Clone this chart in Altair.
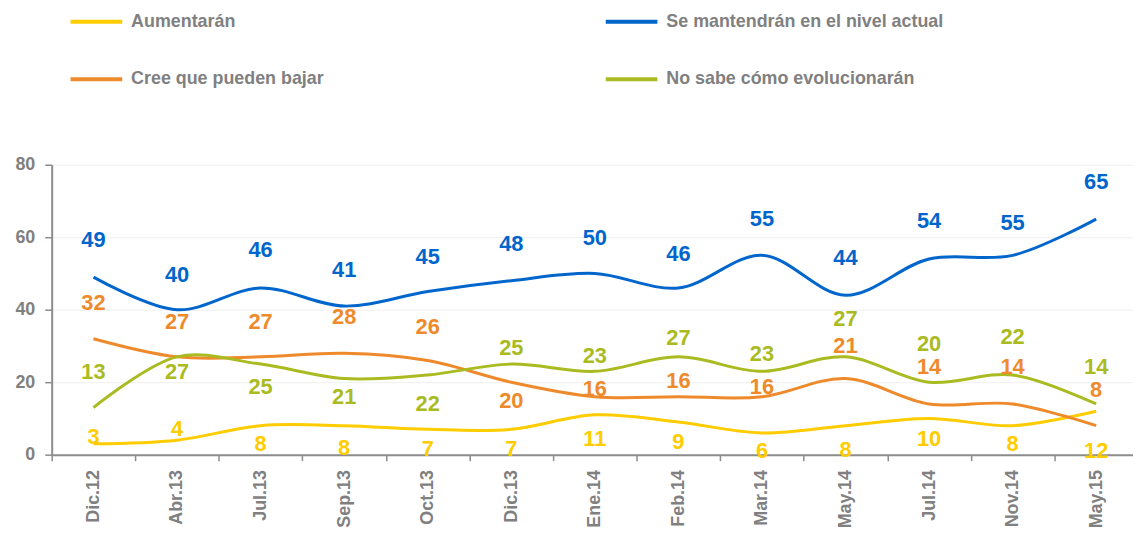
import altair as alt
import pandas as pd

categories = ["Dic.12", "Abr.13", "Jul.13", "Sep.13", "Oct.13", "Dic.13", "Ene.14",
              "Feb.14", "Mar.14", "May.14", "Jul.14", "Nov.14", "May.15"]
series_names = ["Aumentarán", "Se mantendrán en el nivel actual",
                "Cree que pueden bajar", "No sabe cómo evolucionarán"]

aumentaran = [3, 4, 8, 8, 7, 7, 11, 9, 6, 8, 10, 8, 12]
se_mantendran = [49, 40, 46, 41, 45, 48, 50, 46, 55, 44, 54, 55, 65]
cree_bajar = [32, 27, 27, 28, 26, 20, 16, 16, 16, 21, 14, 14, 8]
no_sabe = [13, 27, 25, 21, 22, 25, 23, 27, 23, 27, 20, 22, 14]

colors = ["#FFCC00", "#0066CC", "#EE8A2B", "#AABB22"]

# label placement offsets in pixels (negative = above the point)
off_aumentaran = [-7, -11, 18, 23, 20, 20, 24, 20, 18, 25, 21, 18, 40]
off_se_mantendran = [-37, -35, -38, -36, -35, -37, -36, -34, -37, -37, -38, -33, -37]
off_cree_bajar = [-36, -35, -35, -36, -34, 19, -8, -16, -10, -33, -37, -37, -36]
off_no_sabe = [-36, 15, 23, 19, 29, -16, -15, -19, -17, -38, -38, -38, -37]

PLOT_H = 292
Y_MAX = 80
px_per_unit = PLOT_H / Y_MAX

rows = []
for name, vals, offs in zip(series_names,
                            [aumentaran, se_mantendran, cree_bajar, no_sabe],
                            [off_aumentaran, off_se_mantendran, off_cree_bajar, off_no_sabe]):
    for c, v, o in zip(categories, vals, offs):
        rows.append({"serie": name, "fecha": c, "valor": v,
                     "label_y": v - o / px_per_unit})
df = pd.DataFrame(rows)

color_enc = alt.Color(
    "serie:N",
    scale=alt.Scale(domain=series_names, range=colors),
    legend=alt.Legend(
        title=None, orient="none", legendX=17, legendY=-172, columns=2,
        direction="horizontal",
        columnPadding=275, rowPadding=21, symbolType="stroke", symbolSize=2704,
        symbolStrokeWidth=4, labelFont="Liberation Sans", labelFontSize=18,
        labelFontWeight="bold", labelColor="#808080", labelOffset=7, padding=0,
        labelLimit=600,
    ),
)

x_enc = alt.X(
    "fecha:N", sort=categories,
    scale=alt.Scale(type="band", range=[0, 1094], paddingInner=0, paddingOuter=0),
    axis=alt.Axis(title=None, labelAngle=-90, tickBand="extent", labelFontSize=18,
                  labelPadding=9, tickSize=6, grid=False),
)

base = alt.Chart(df)

lines = base.mark_line(strokeWidth=3, interpolate="catmull-rom").encode(
    x=x_enc,
    y=alt.Y("valor:Q", scale=alt.Scale(domain=[0, Y_MAX], nice=False),
            axis=alt.Axis(title=None, values=[0, 20, 40, 60, 80], labelFontSize=18,
                          tickSize=7, labelPadding=10, grid=True)),
    color=color_enc,
)

labels = base.mark_text(font="Liberation Sans", fontWeight="bold", fontSize=22,
                        baseline="middle", align="center").encode(
    x=alt.X("fecha:N", sort=categories),
    y=alt.Y("label_y:Q"),
    text=alt.Text("valor:Q"),
    color=color_enc,
)

chart = alt.layer(lines, labels).properties(
    width=1089, height=PLOT_H, autosize=alt.AutoSizeParams(type="none"),
    padding={"left": 44, "top": 156, "right": 0, "bottom": 76},
).configure_view(stroke=None).configure_axis(
    labelFont="Liberation Sans", labelFontWeight="bold", labelColor="#808080",
    domainColor="#8c8c8c", tickColor="#8c8c8c", domainWidth=2, tickWidth=1.5,
    gridColor="#efefef", gridWidth=1,
)

chart.save("out.html", embed_options={"renderer": "svg", "actions": False})
